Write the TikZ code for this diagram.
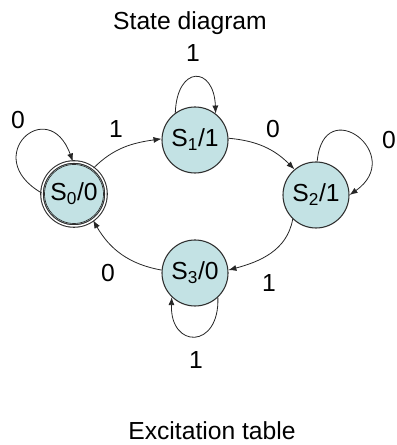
\documentclass[tikz,border=0pt]{standalone}
\usepackage{fontspec}
\setmainfont{Liberation Sans}
\usepackage{xcolor}
\definecolor{stateFill}{HTML}{C3E2E4}
\definecolor{stateLine}{HTML}{2E2E2E}
\usetikzlibrary{arrows.meta}

\tikzset{
  state/.style={circle, draw=stateLine, line width=0.8pt, fill=stateFill,
    minimum size=49.5pt, inner sep=0pt, font=\fontsize{18.5}{22}\selectfont},
  lbl/.style={font=\fontsize{18.5}{22}\selectfont, inner sep=0pt},
  trans/.style={->, line width=0.6pt, black!85}
}

\begin{document}
\begin{tikzpicture}[x=0.75pt, y=0.75pt, >={Latex[length=6pt,width=4.5pt]}]
\useasboundingbox (0,0) rectangle (396,445);
% ---------- headings ----------
\node[lbl, anchor=base] (title) at (190,415) {State diagram};
\node[lbl, anchor=base] (table) at (212,5) {Excitation table};
% ---------- the four states ----------
\node[state, double=white, double distance=1.1pt, minimum size=48pt] (s0) at (74,251) {S\textsubscript{0}/0};
\draw[stateLine, line width=0.5pt] (s0.center) circle (29.5);
\node[state] (s1) at (195,305) {S\textsubscript{1}/1};
\node[state] (s2) at (316,250) {S\textsubscript{2}/1};
\node[state] (s3) at (195,172) {S\textsubscript{3}/0};
% ---------- transitions round the cycle ----------
\draw[trans] (s0.53) to[out=45, in=188] (s1.178);
\draw[trans] (s1.3) to[out=-5, in=135] (s2.130);
\draw[trans] (s2.-134) to[out=-100, in=15] (s3.5);
\draw[trans] (s3.175) to[out=170, in=-60] (s0.-54);
% ---------- self loops ----------
\draw[trans] (s0.178) .. controls +(150:72) and +(110:72) .. (s0.92);
\draw[trans] (s1.126) .. controls +(88:48) and +(92:48) .. (s1.52);
\draw[trans] (s2.88) .. controls +(85:70) and +(35:70) .. (s2.0);
\draw[trans] (s3.-47) .. controls +(-88:52) and +(-92:52) .. (s3.-134);
% ---------- input labels ----------
\node[lbl] (l00) at (18,325) {0};
\node[lbl] (l01) at (116,316) {1};
\node[lbl] (l11) at (193,392) {1};
\node[lbl] (l12) at (273,316) {0};
\node[lbl] (l22) at (389,305) {0};
\node[lbl] (l23) at (269,162) {1};
\node[lbl] (l30) at (108,172) {0};
\node[lbl] (l33) at (196,85) {1};
\end{tikzpicture}
\end{document}
